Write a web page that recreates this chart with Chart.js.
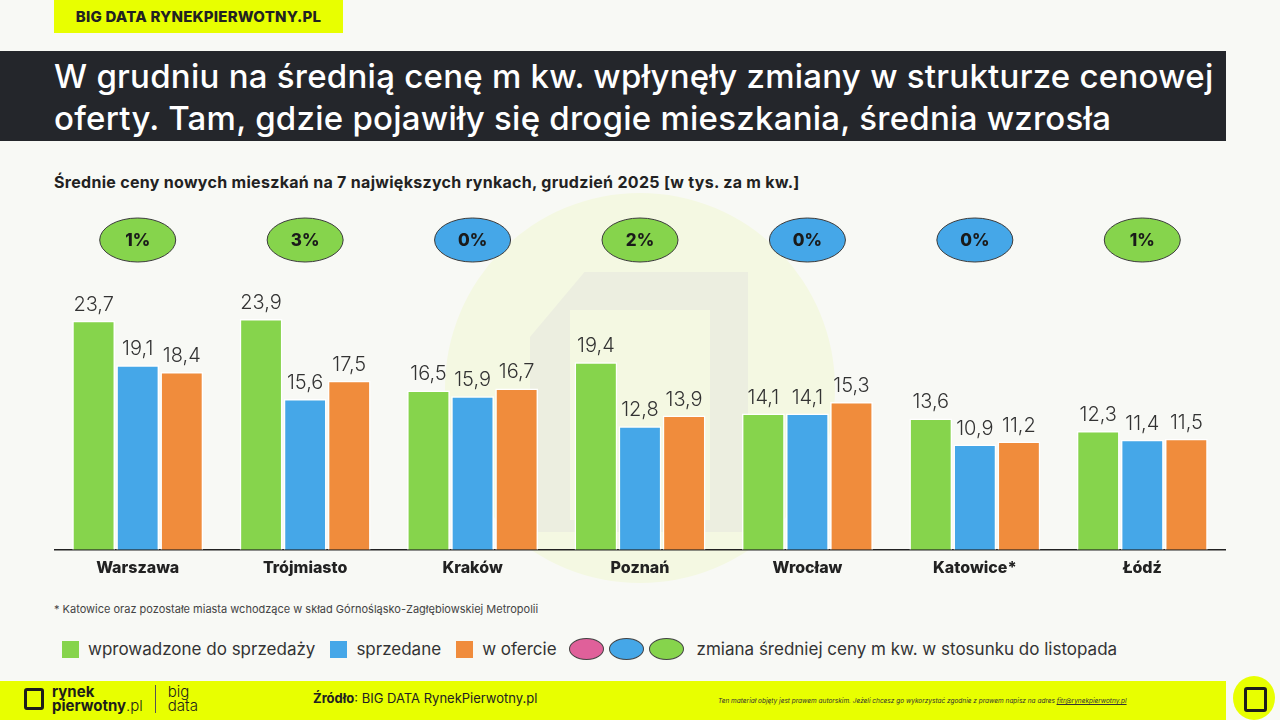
<!DOCTYPE html>
<html>
<head>
<meta charset="utf-8">
<script src="https://cdn.jsdelivr.net/npm/chart.js@4"></script>
<style>
  body { margin:0; width:1280px; height:720px; background:#f8f9f5; font-family:Inter, "Open Sans", sans-serif; position:relative; overflow:hidden; color:#222; }
  .tag { position:absolute; left:54px; top:0; width:289px; height:33px; background:#e8ff00; font-weight:800; font-size:15px; line-height:33px; text-align:center; color:#222; letter-spacing:0.2px; }
  .title { position:absolute; left:0; top:51px; width:1226px; height:90px; background:#24262b; color:#fff; font-size:33px; font-weight:500; line-height:42px; padding-left:54px; box-sizing:border-box; padding-top:4px; white-space:nowrap; letter-spacing:0.25px; }
  .sub { position:absolute; left:54px; top:172px; font-size:16px; font-weight:700; color:#222; letter-spacing:0.3px; }
  .wm { position:absolute; left:445px; top:193px; width:390px; height:390px; border-radius:50%; background:#f4f8e2; }
  .wm2 { position:absolute; left:530px; top:272px; width:218px; height:260px; background:#eceee0; clip-path:polygon(25% 0,100% 0,100% 100%,0 100%,0 25%); }
  .wm3 { position:absolute; left:570px; top:310px; width:140px; height:210px; background:#f4f8e2; }
  #wrap { position:absolute; left:54px; top:202px; width:1172px; height:385px; }
  .foot { position:absolute; left:54px; top:602px; font-size:11px; color:#444; }
  .legend { position:absolute; left:62px; top:638px; font-size:17px; color:#333; display:flex; align-items:center; }
  .sq { width:17px; height:17px; display:inline-block; margin-right:9px; }
  .el { width:35px; height:22px; border-radius:50%; border:1px solid #444; display:inline-block; box-sizing:border-box; margin-right:5px; }
  .band { position:absolute; left:0; top:681px; width:1226px; height:39px; background:#e8ff00; }
  .circ { position:absolute; left:1233px; top:676px; width:42px; height:44px; border-radius:50%; background:#e8ff00; }
  .circ i { position:absolute; left:11px; top:11px; width:17px; height:19px; border:3px solid #1d1d1b; border-radius:3px; }
  .logo { position:absolute; left:24px; top:685px; font-size:15px; font-weight:700; line-height:14px; color:#1d1d1b; }
  .src { position:absolute; left:313px; top:690px; font-size:13px; color:#222; }
  .copy { position:absolute; left:718px; top:697px; font-size:6.5px; font-style:italic; color:#333; }
</style>
</head>
<body>
<div class="tag">BIG DATA RYNEKPIERWOTNY.PL</div>
<div class="title">W grudniu na średnią cenę m kw. wpłynęły zmiany w strukturze cenowej<br>oferty. Tam, gdzie pojawiły się drogie mieszkania, średnia wzrosła</div>
<div class="sub">Średnie ceny nowych mieszkań na 7 największych rynkach, grudzień 2025 [w tys. za m kw.]</div>
<div class="wm"></div><div class="wm2"></div><div class="wm3"></div>
<div id="wrap"><canvas id="chart"></canvas></div>
<div class="foot">* Katowice oraz pozostałe miasta wchodzące w skład Górnośląsko-Zagłębiowskiej Metropolii</div>
<div class="legend">
  <span class="sq" style="background:#86d44c"></span><span style="margin-right:15px">wprowadzone do sprzedaży</span>
  <span class="sq" style="background:#45a7e8"></span><span style="margin-right:15px">sprzedane</span>
  <span class="sq" style="background:#f08c3c"></span><span style="margin-right:12px">w ofercie</span>
  <span class="el" style="background:#e0609a"></span><span class="el" style="background:#45a7e8"></span><span class="el" style="background:#86d44c;margin-right:13px"></span>
  <span>zmiana średniej ceny m kw. w stosunku do listopada</span>
</div>
<div class="band"></div>
<div class="circ"><i></i></div>
<div class="logo"><span style="display:inline-block;width:14px;height:16px;border:3px solid #1d1d1b;border-radius:3px;vertical-align:top;margin-right:8px;margin-top:3px"></span><span style="display:inline-block">rynek<br>pierwotny<span style="font-weight:300">.pl</span></span><span style="display:inline-block;width:1px;height:28px;background:#555;margin:0 12px;vertical-align:top"></span><span style="display:inline-block;font-weight:300;font-size:15px">big<br>data</span></div>
<div class="src"><b>Źródło</b>: BIG DATA RynekPierwotny.pl</div>
<div class="copy">Ten materiał objęty jest prawem autorskim. Jeżeli chcesz go wykorzystać zgodnie z prawem napisz na adres <u>fitr@rynekpierwotny.pl</u></div>

<script>
var cities = ['Warszawa', 'Trójmiasto', 'Kraków', 'Poznań', 'Wrocław', 'Katowice*', 'Łódź'];
var introduced = [23.7, 23.9, 16.5, 19.4, 14.1, 13.6, 12.3];
var sold = [19.1, 15.6, 15.9, 12.8, 14.1, 10.9, 11.4];
var offer = [18.4, 17.5, 16.7, 13.9, 15.3, 11.2, 11.5];
var change = [1, 3, 0, 2, 0, 0, 1];

var green = '#86d44c', blue = '#45a7e8', orange = '#f08c3c', pink = '#e0609a';

function fmt(v) { return v.toFixed(1).replace('.', ','); }

var extras = {
    id: 'extras',
    afterDatasetsDraw: function(chart) {
        var ctx = chart.ctx;
        ctx.save();
        ctx.font = '300 20px Inter, sans-serif';
        ctx.fillStyle = '#333';
        ctx.textAlign = 'center';
        ctx.textBaseline = 'bottom';
        chart.data.datasets.forEach(function(ds, i) {
            chart.getDatasetMeta(i).data.forEach(function(bar, j) {
                ctx.fillText(fmt(ds.data[j]), bar.x, bar.y - 6);
            });
        });
        // change ellipses above each group
        var xs = chart.scales.x;
        change.forEach(function(c, j) {
            var cx = xs.getPixelForValue(j);
            var cy = chart.chartArea.top + 38;
            ctx.beginPath();
            ctx.ellipse(cx, cy, 38, 22, 0, 0, Math.PI * 2);
            ctx.fillStyle = c > 0 ? green : (c < 0 ? pink : blue);
            ctx.fill();
            ctx.lineWidth = 1;
            ctx.strokeStyle = '#3a3a3a';
            ctx.stroke();
            ctx.fillStyle = '#1a1a1a';
            ctx.font = '800 17px Inter, sans-serif';
            ctx.textBaseline = 'middle';
            ctx.fillText(c + '%', cx, cy + 1);
        });
        ctx.restore();
    }
};

var ctx = document.getElementById('chart');
new Chart(ctx, {
    type: 'bar',
    data: {
        labels: cities,
        datasets: [
            { label: 'wprowadzone do sprzedaży', data: introduced, backgroundColor: green },
            { label: 'sprzedane', data: sold, backgroundColor: blue },
            { label: 'w ofercie', data: offer, backgroundColor: orange }
        ]
    },
    options: {
        responsive: true,
        maintainAspectRatio: false,
        animation: false,
        layout: { padding: 0 },
        datasets: { bar: { categoryPercentage: 0.79, barPercentage: 0.97, borderColor: '#ffffff', borderWidth: 1.5 } },
        plugins: {
            legend: { display: false },
            tooltip: { enabled: false }
        },
        scales: {
            x: {
                grid: { display: false, drawTicks: false },
                border: { display: true, color: '#222', width: 1.5 },
                ticks: { color: '#222', padding: 9, font: { family: 'Inter', size: 16, weight: '800' } }
            },
            y: { display: false, min: 0, max: 36 }
        }
    },
    plugins: [extras]
});
</script>
</body>
</html>
